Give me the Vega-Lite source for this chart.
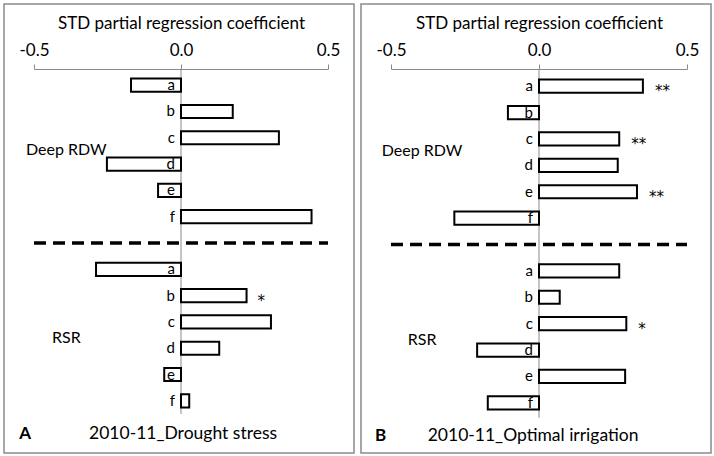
{
  "$schema": "https://vega.github.io/schema/vega-lite/v6.json",
  "padding": {"left": 3, "top": 3, "right": 3, "bottom": 3},
  "background": "white",
  "spacing": 5,
  "config": {
    "font": "Lato",
    "view": {"stroke": "#8a8a8a", "strokeWidth": 1.5},
    "axis": {"grid": false},
    "text": {"color": "black"}
  },
  "datasets": {
    "bars": [
      {"panel": "A", "trait": "Deep RDW", "item": "a", "row": "Deep RDW a", "value": -0.17, "sig": ""},
      {"panel": "A", "trait": "Deep RDW", "item": "b", "row": "Deep RDW b", "value": 0.176, "sig": ""},
      {"panel": "A", "trait": "Deep RDW", "item": "c", "row": "Deep RDW c", "value": 0.333, "sig": ""},
      {"panel": "A", "trait": "Deep RDW", "item": "d", "row": "Deep RDW d", "value": -0.252, "sig": ""},
      {"panel": "A", "trait": "Deep RDW", "item": "e", "row": "Deep RDW e", "value": -0.078, "sig": ""},
      {"panel": "A", "trait": "Deep RDW", "item": "f", "row": "Deep RDW f", "value": 0.444, "sig": ""},
      {"panel": "A", "trait": "RSR", "item": "a", "row": "RSR a", "value": -0.289, "sig": ""},
      {"panel": "A", "trait": "RSR", "item": "b", "row": "RSR b", "value": 0.223, "sig": "*"},
      {"panel": "A", "trait": "RSR", "item": "c", "row": "RSR c", "value": 0.306, "sig": ""},
      {"panel": "A", "trait": "RSR", "item": "d", "row": "RSR d", "value": 0.13, "sig": ""},
      {"panel": "A", "trait": "RSR", "item": "e", "row": "RSR e", "value": -0.057, "sig": ""},
      {"panel": "A", "trait": "RSR", "item": "f", "row": "RSR f", "value": 0.028, "sig": ""},
      {"panel": "B", "trait": "Deep RDW", "item": "a", "row": "Deep RDW a", "value": 0.351, "sig": "**"},
      {"panel": "B", "trait": "Deep RDW", "item": "b", "row": "Deep RDW b", "value": -0.105, "sig": ""},
      {"panel": "B", "trait": "Deep RDW", "item": "c", "row": "Deep RDW c", "value": 0.271, "sig": "**"},
      {"panel": "B", "trait": "Deep RDW", "item": "d", "row": "Deep RDW d", "value": 0.266, "sig": ""},
      {"panel": "B", "trait": "Deep RDW", "item": "e", "row": "Deep RDW e", "value": 0.331, "sig": "**"},
      {"panel": "B", "trait": "Deep RDW", "item": "f", "row": "Deep RDW f", "value": -0.286, "sig": ""},
      {"panel": "B", "trait": "RSR", "item": "a", "row": "RSR a", "value": 0.271, "sig": ""},
      {"panel": "B", "trait": "RSR", "item": "b", "row": "RSR b", "value": 0.07, "sig": ""},
      {"panel": "B", "trait": "RSR", "item": "c", "row": "RSR c", "value": 0.295, "sig": "*"},
      {"panel": "B", "trait": "RSR", "item": "d", "row": "RSR d", "value": -0.209, "sig": ""},
      {"panel": "B", "trait": "RSR", "item": "e", "row": "RSR e", "value": 0.291, "sig": ""},
      {"panel": "B", "trait": "RSR", "item": "f", "row": "RSR f", "value": -0.173, "sig": ""}
    ],
    "groups": [
      {"trait": "Deep RDW", "anchor": "Deep RDW c"},
      {"trait": "RSR", "anchor": "RSR c"}
    ],
    "panels": [
      {"panel": "A", "letter": "A", "title": "2010-11_Drought stress"},
      {"panel": "B", "letter": "B", "title": "2010-11_Optimal irrigation"}
    ]
  },
  "hconcat": [
    {
      "width": 350,
      "height": 449,
      "data": {"name": "bars"},
      "transform": [{"filter": "datum.panel == 'A'"}],
      "layer": [
        {
          "data": {"name": "panels"},
          "transform": [{"filter": "datum.panel == 'A'"}],
          "mark": {"type": "rule", "color": "#8a8a8a", "strokeWidth": 1, "yOffset": -16, "y2Offset": 13},
          "encoding": {
            "x": {"datum": 0, "type": "quantitative", "scale": {"type": "linear", "domain": [-0.5, 0.5], "range": [30, 324], "nice": false, "zero": false}},
            "y": {"datum": "Deep RDW a", "type": "nominal", "scale": {"type": "band", "domain": ["Deep RDW a", "Deep RDW b", "Deep RDW c", "Deep RDW d", "Deep RDW e", "Deep RDW f", "sep", "RSR a", "RSR b", "RSR c", "RSR d", "RSR e", "RSR f"], "range": [68, 410], "paddingInner": 0, "paddingOuter": 0}, "axis": null},
            "y2": {"datum": "RSR f"}
          }
        },
        {
          "mark": {"type": "bar", "fill": "white", "stroke": "black", "strokeWidth": 2, "height": {"band": 0.5}},
          "encoding": {
            "x": {"field": "value", "type": "quantitative", "scale": {"type": "linear", "domain": [-0.5, 0.5], "range": [30, 324], "nice": false, "zero": false},
              "axis": {"orient": "top", "offset": -65, "values": [-0.5, 0, 0.5], "labelExpr": "replace(format(datum.value, '.1f'), '\u2212', '-')", "title": "STD partial regression coefficient", "domainColor": "#8a8a8a", "tickColor": "#8a8a8a", "tickSize": 5, "labelFlush": false, "labelFontSize": 17, "labelColor": "black", "labelPadding": 5, "titleFontSize": 17, "titleFontWeight": "normal", "titleColor": "black", "titlePadding": 9}},
            "y": {"field": "row", "type": "nominal", "axis": null}
          }
        },
        {
          "mark": {"type": "text", "align": "right", "baseline": "middle", "dx": -6, "fontSize": 15},
          "encoding": {
            "x": {"datum": 0, "type": "quantitative"},
            "y": {"field": "row", "type": "nominal", "axis": null},
            "text": {"field": "item"}
          }
        },
        {
          "mark": {"type": "text", "align": "left", "baseline": "middle", "dx": 11, "dy": 5, "fontSize": 15, "font": "DejaVu Sans"},
          "encoding": {
            "x": {"field": "value", "type": "quantitative"},
            "y": {"field": "row", "type": "nominal", "axis": null},
            "text": {"field": "sig"}
          }
        },
        {
          "data": {"name": "panels"},
          "transform": [{"filter": "datum.panel == 'A'"}],
          "mark": {"type": "rule", "color": "black", "strokeWidth": 3.5, "strokeDash": [12, 7]},
          "encoding": {
            "x": {"datum": -0.5, "type": "quantitative"},
            "x2": {"datum": 0.5},
            "y": {"datum": "sep", "type": "nominal", "axis": null}
          }
        },
        {
          "data": {"name": "groups"},
          "transform": [{"filter": "datum.trait == 'Deep RDW'"}],
          "mark": {"type": "text", "align": "center", "baseline": "middle", "dy": 12, "fontSize": 16},
          "encoding": {
            "x": {"datum": -0.39, "type": "quantitative"},
            "y": {"field": "anchor", "type": "nominal", "axis": null},
            "text": {"field": "trait"}
          }
        },
        {
          "data": {"name": "groups"},
          "transform": [{"filter": "datum.trait == 'RSR'"}],
          "mark": {"type": "text", "align": "center", "baseline": "middle", "dy": 16, "fontSize": 16},
          "encoding": {
            "x": {"datum": -0.39, "type": "quantitative"},
            "y": {"field": "anchor", "type": "nominal", "axis": null},
            "text": {"field": "trait"}
          }
        },
        {
          "data": {"name": "panels"},
          "transform": [{"filter": "datum.panel == 'A'"}],
          "mark": {"type": "text", "align": "center", "baseline": "middle", "dy": 33, "fontSize": 17, "fontWeight": "bold"},
          "encoding": {
            "x": {"datum": -0.53, "type": "quantitative"},
            "y": {"datum": "RSR f", "type": "nominal", "axis": null},
            "text": {"field": "letter"}
          }
        },
        {
          "data": {"name": "panels"},
          "transform": [{"filter": "datum.panel == 'A'"}],
          "mark": {"type": "text", "align": "center", "baseline": "middle", "dy": 33, "fontSize": 17.5, "fontWeight": "normal"},
          "encoding": {
            "x": {"datum": 0.007, "type": "quantitative"},
            "y": {"datum": "RSR f", "type": "nominal", "axis": null},
            "text": {"field": "title"}
          }
        }
      ]
    },
    {
      "width": 350,
      "height": 449,
      "data": {"name": "bars"},
      "transform": [{"filter": "datum.panel == 'B'"}],
      "layer": [
        {
          "data": {"name": "panels"},
          "transform": [{"filter": "datum.panel == 'B'"}],
          "mark": {"type": "rule", "color": "#8a8a8a", "strokeWidth": 1, "yOffset": -16, "y2Offset": 15},
          "encoding": {
            "x": {"datum": 0, "type": "quantitative", "scale": {"type": "linear", "domain": [-0.5, 0.5], "range": [30, 326], "nice": false, "zero": false}},
            "y": {"datum": "Deep RDW a", "type": "nominal", "scale": {"type": "band", "domain": ["Deep RDW a", "Deep RDW b", "Deep RDW c", "Deep RDW d", "Deep RDW e", "Deep RDW f", "sep", "RSR a", "RSR b", "RSR c", "RSR d", "RSR e", "RSR f"], "range": [69, 412], "paddingInner": 0, "paddingOuter": 0}, "axis": null},
            "y2": {"datum": "RSR f"}
          }
        },
        {
          "mark": {"type": "bar", "fill": "white", "stroke": "black", "strokeWidth": 2, "height": {"band": 0.5}},
          "encoding": {
            "x": {"field": "value", "type": "quantitative", "scale": {"type": "linear", "domain": [-0.5, 0.5], "range": [30, 326], "nice": false, "zero": false},
              "axis": {"orient": "top", "offset": -65, "values": [-0.5, 0, 0.5], "labelExpr": "replace(format(datum.value, '.1f'), '\u2212', '-')", "title": "STD partial regression coefficient", "domainColor": "#8a8a8a", "tickColor": "#8a8a8a", "tickSize": 5, "labelFlush": false, "labelFontSize": 17, "labelColor": "black", "labelPadding": 5, "titleFontSize": 17, "titleFontWeight": "normal", "titleColor": "black", "titlePadding": 9}},
            "y": {"field": "row", "type": "nominal", "axis": null}
          }
        },
        {
          "mark": {"type": "text", "align": "right", "baseline": "middle", "dx": -6, "fontSize": 15},
          "encoding": {
            "x": {"datum": 0, "type": "quantitative"},
            "y": {"field": "row", "type": "nominal", "axis": null},
            "text": {"field": "item"}
          }
        },
        {
          "mark": {"type": "text", "align": "left", "baseline": "middle", "dx": 12, "dy": 5, "fontSize": 15, "font": "DejaVu Sans"},
          "encoding": {
            "x": {"field": "value", "type": "quantitative"},
            "y": {"field": "row", "type": "nominal", "axis": null},
            "text": {"field": "sig"}
          }
        },
        {
          "data": {"name": "panels"},
          "transform": [{"filter": "datum.panel == 'B'"}],
          "mark": {"type": "rule", "color": "black", "strokeWidth": 3.5, "strokeDash": [12, 7]},
          "encoding": {
            "x": {"datum": -0.5, "type": "quantitative"},
            "x2": {"datum": 0.5},
            "y": {"datum": "sep", "type": "nominal", "axis": null}
          }
        },
        {
          "data": {"name": "groups"},
          "transform": [{"filter": "datum.trait == 'Deep RDW'"}],
          "mark": {"type": "text", "align": "center", "baseline": "middle", "dy": 12, "fontSize": 16},
          "encoding": {
            "x": {"datum": -0.395, "type": "quantitative"},
            "y": {"field": "anchor", "type": "nominal", "axis": null},
            "text": {"field": "trait"}
          }
        },
        {
          "data": {"name": "groups"},
          "transform": [{"filter": "datum.trait == 'RSR'"}],
          "mark": {"type": "text", "align": "center", "baseline": "middle", "dy": 16, "fontSize": 16},
          "encoding": {
            "x": {"datum": -0.395, "type": "quantitative"},
            "y": {"field": "anchor", "type": "nominal", "axis": null},
            "text": {"field": "trait"}
          }
        },
        {
          "data": {"name": "panels"},
          "transform": [{"filter": "datum.panel == 'B'"}],
          "mark": {"type": "text", "align": "center", "baseline": "middle", "dy": 33, "fontSize": 17, "fontWeight": "bold"},
          "encoding": {
            "x": {"datum": -0.535, "type": "quantitative"},
            "y": {"datum": "RSR f", "type": "nominal", "axis": null},
            "text": {"field": "letter"}
          }
        },
        {
          "data": {"name": "panels"},
          "transform": [{"filter": "datum.panel == 'B'"}],
          "mark": {"type": "text", "align": "center", "baseline": "middle", "dy": 33, "fontSize": 17.5, "fontWeight": "normal"},
          "encoding": {
            "x": {"datum": -0.02, "type": "quantitative"},
            "y": {"datum": "RSR f", "type": "nominal", "axis": null},
            "text": {"field": "title"}
          }
        }
      ]
    }
  ]
}
